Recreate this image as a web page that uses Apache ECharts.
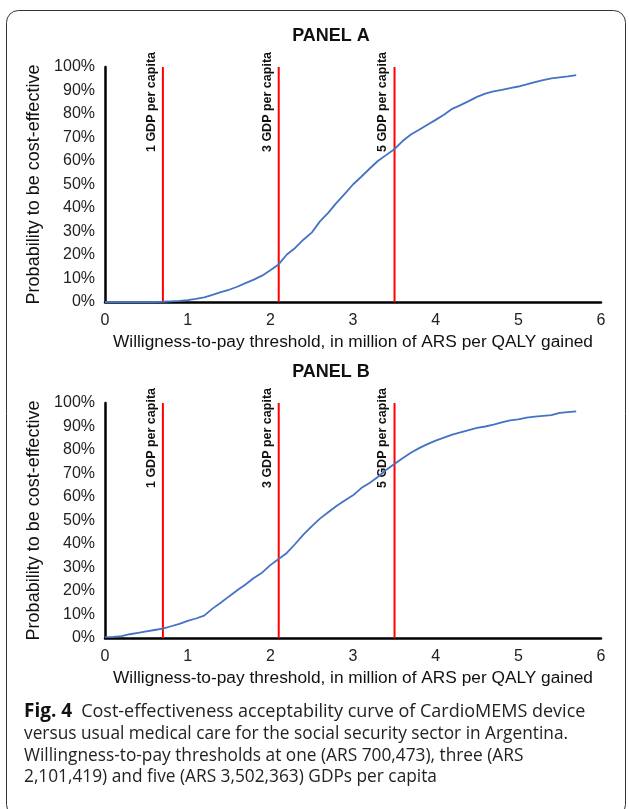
<!DOCTYPE html>
<html>
<head>
<meta charset="utf-8">
<script src="https://cdn.jsdelivr.net/npm/echarts@6/dist/echarts.min.js"></script>
<style>
html,body{margin:0;padding:0;background:#fff;}
#chart{width:629px;height:809px;}
</style>
</head>
<body>
<div id="chart"></div>
<script>
// ---- Data ----
const wtp = [0,0.1,0.2,0.3,0.4,0.5,0.6,0.7,0.8,0.9,1.0,1.1,1.2,1.3,1.4,1.5,1.6,1.7,1.8,1.9,2.0,2.1,2.2,2.3,2.4,2.5,2.6,2.7,2.8,2.9,3.0,3.1,3.2,3.3,3.4,3.5,3.6,3.7,3.8,3.9,4.0,4.1,4.2,4.3,4.4,4.5,4.6,4.7,4.8,4.9,5.0,5.1,5.2,5.3,5.4,5.5,5.6,5.7];
const panelA = [0,0,0,0,0,0,0,0.1,0.3,0.5,0.8,1.3,2.0,3.0,4.2,5.2,6.5,8.0,9.5,11.2,13.5,16.0,20.2,23.0,26.5,29.5,34.3,37.9,42.2,46.0,50.0,53.3,56.7,60.0,62.5,65.0,68.5,71.3,73.3,75.4,77.5,79.7,82.2,83.8,85.5,87.3,88.7,89.6,90.3,91.0,91.7,92.6,93.6,94.4,95.2,95.6,96.0,96.5];
const panelB = [0.4,0.5,0.8,1.6,2.2,2.8,3.4,4.0,5.0,6.0,7.3,8.3,9.5,12.5,15.0,17.7,20.3,22.8,25.5,27.8,31.0,33.6,36.2,40.0,44.0,47.5,50.8,53.5,56.2,58.5,60.7,63.8,66.0,68.5,71.5,74.0,76.5,78.8,80.8,82.5,84.0,85.3,86.5,87.5,88.5,89.4,90.0,90.8,91.8,92.6,93.0,93.8,94.2,94.5,94.8,95.8,96.1,96.4];
const thresholds = [0.700473, 2.101419, 3.502363];
const thresholdLabels = ['1 GDP per capita', '3 GDP per capita', '5 GDP per capita'];
const panelTitles = ['PANEL A', 'PANEL B'];
const xTitle = 'Willigness-to-pay threshold, in million of ARS per QALY gained';
const yTitle = 'Probability to be cost-effective';
const captionLines = [
  '{b|Fig. 4}  {w|Cost-effectiveness acceptability curve of CardioMEMS device}',
  'versus usual medical care for the social security sector in Argentina.',
  'Willingness-to-pay thresholds at one (ARS 700,473), three (ARS',
  '2,101,419) and five (ARS 3,502,363) GDPs per capita'
];

const FONT = 'Liberation Sans, Arial, sans-serif';
const grids = [
  {left:105, right:28, top:67, height:235},
  {left:105, right:28, top:403, height:235}
];

function xAxisCfg(i){
  return {
    type:'value', gridIndex:i, min:0, max:6, interval:1,
    axisLine:{show:true, lineStyle:{color:'#000', width:2.5}},
    axisTick:{show:false}, splitLine:{show:false},
    axisLabel:{color:'#222', fontSize:16, fontFamily:FONT, margin:11},
    name:xTitle, nameLocation:'middle', nameGap:32,
    nameTextStyle:{color:'#111', fontSize:17.3, fontFamily:FONT}
  };
}
function yAxisCfg(i){
  return {
    type:'value', gridIndex:i, min:0, max:100, interval:10,
    axisLine:{show:true, onZero:false, lineStyle:{color:'#000', width:2.5}},
    axisTick:{show:false}, splitLine:{show:false},
    axisLabel:{color:'#222', fontSize:16, fontFamily:FONT, margin:10, formatter:'{value}%'},
    name:yTitle, nameLocation:'middle', nameGap:53,
    nameTextStyle:{color:'#111', fontSize:18, fontFamily:FONT}
  };
}

const series = [];
[panelA, panelB].forEach((vals, i) => {
  thresholds.forEach(t => {
    series.push({
      type:'line', xAxisIndex:i, yAxisIndex:i, data:[[t,0],[t,100]],
      symbol:'none', silent:true, lineStyle:{color:'#FF0000', width:2}, z:2
    });
  });
  series.push({
    type:'line', xAxisIndex:i, yAxisIndex:i,
    data: wtp.map((x, k) => [x, vals[k]]),
    symbol:'none', lineStyle:{color:'#4472C4', width:1.8}, z:3
  });
});

const chart = echarts.init(document.getElementById('chart'), null, {renderer:'canvas'});
chart.setOption({
  animation:false,
  backgroundColor:'#fff',
  grid: grids,
  xAxis: [xAxisCfg(0), xAxisCfg(1)],
  yAxis: [yAxisCfg(0), yAxisCfg(1)],
  series: series
});

// annotations positioned through the axes
const graphics = [];
graphics.push({
  type:'rect', shape:{x:6.5, y:10.5, width:619, height:806, r:12},
  style:{fill:null, stroke:'#333', lineWidth:1}, silent:true, z:0
});
[0,1].forEach(i => {
  const top = chart.convertToPixel({gridIndex:i}, [3, 100]);
  graphics.push({
    type:'text', x: top[0] - 22, y: top[1] - 31,
    style:{text:panelTitles[i], fontSize:18, fontWeight:'bold', fontFamily:FONT, fill:'#111',
           align:'center', verticalAlign:'middle'}
  });
  thresholds.forEach((t, j) => {
    const p = chart.convertToPixel({gridIndex:i}, [t, 100]);
    graphics.push({
      type:'text', x: p[0] - 5, y: p[1] - 15, rotation: Math.PI/2,
      style:{text:thresholdLabels[j], fontSize:12.5, fontWeight:'bold', fontFamily:FONT, fill:'#111',
             align:'right', verticalAlign:'bottom'}
    });
  });
});
const capY = [712, 734, 756, 777];
captionLines.forEach((line, k) => {
  graphics.push({
    type:'text', x:24, y:capY[k],
    style:{text:line, fontSize:17.3, fontFamily:'Open Sans, sans-serif', fill:'#222',
           verticalAlign:'middle', align:'left',
           rich:{
             b:{fontSize:19, fontWeight:'bold', fontFamily:'Open Sans, sans-serif', fill:'#111'},
             w:{fontSize:18, fontFamily:'Open Sans, sans-serif', fill:'#222'}
           }}
  });
});
chart.setOption({graphic: graphics});
</script>
</body>
</html>
